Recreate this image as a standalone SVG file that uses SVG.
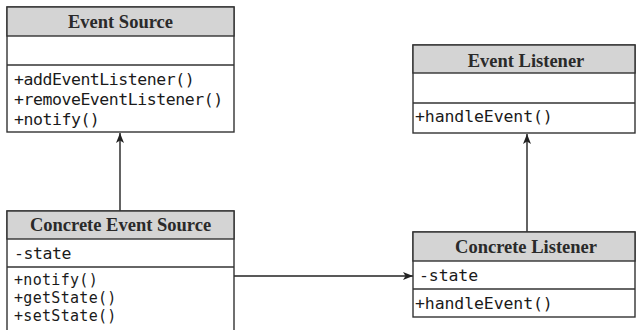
<svg xmlns="http://www.w3.org/2000/svg" width="637" height="330" viewBox="0 0 637 330">
<style>
.box{fill:#fff;stroke:#333;stroke-width:1.4}
.hdr{fill:#d4d4d4;stroke:#333;stroke-width:1.4}
.sep{stroke:#333;stroke-width:1.4}
.title{font-family:"Liberation Serif","Times New Roman",serif;font-weight:bold;font-size:18.5px;fill:#2a2a2a;text-anchor:middle}
.mem{font-family:"DejaVu Sans Mono",monospace;font-size:16.5px;letter-spacing:-0.45px;fill:#1a1a1a}
.mems{font-family:"DejaVu Sans Mono",monospace;font-size:15px;letter-spacing:0.3px;fill:#1a1a1a}
.memr{font-family:"DejaVu Sans Mono",monospace;font-size:16.5px;letter-spacing:-0.1px;fill:#1a1a1a}
.conn{stroke:#222;stroke-width:1.4;fill:none}
</style>
<defs>
<marker id="arr" viewBox="0 0 10 8" refX="10" refY="4" markerWidth="10" markerHeight="8" markerUnits="userSpaceOnUse" orient="auto">
<path d="M0,0 L10,4 L0,8 L2.5,4 z" fill="#222"/>
</marker>
</defs>
<g id="connectors">
<line class="conn" x1="120" y1="211" x2="120" y2="133" marker-end="url(#arr)"/>
<line class="conn" x1="527" y1="232" x2="527" y2="134" marker-end="url(#arr)"/>
<line class="conn" x1="234" y1="276" x2="413" y2="276" marker-end="url(#arr)"/>
</g>
<g id="event-source">
<rect class="box" x="7" y="7" width="227" height="125"/>
<rect class="hdr" x="7" y="7" width="227" height="29"/>
<line class="sep" x1="7" y1="65" x2="234" y2="65"/>
<text class="title" x="120.5" y="28">Event Source</text>
<text class="mem" x="14" y="85">+addEventListener()</text>
<text class="mem" x="14" y="105">+removeEventListener()</text>
<text class="mem" x="14" y="125">+notify()</text>
</g>
<g id="concrete-event-source">
<rect class="box" x="7" y="211" width="227" height="130"/>
<rect class="hdr" x="7" y="211" width="227" height="28"/>
<line class="sep" x1="7" y1="267" x2="234" y2="267"/>
<text class="title" x="120.5" y="231">Concrete Event Source</text>
<text class="mem" x="14" y="259">-state</text>
<text class="mems" x="14" y="285">+notify()</text>
<text class="mems" x="14" y="303">+getState()</text>
<text class="mems" x="14" y="321">+setState()</text>
</g>
<g id="event-listener">
<rect class="box" x="413" y="45" width="222" height="88"/>
<rect class="hdr" x="413" y="45" width="222" height="28"/>
<line class="sep" x1="413" y1="103" x2="635" y2="103"/>
<text class="title" x="526" y="67">Event Listener</text>
<text class="memr" x="415" y="122">+handleEvent()</text>
</g>
<g id="concrete-listener">
<rect class="box" x="413" y="232" width="222" height="85"/>
<rect class="hdr" x="413" y="232" width="222" height="29"/>
<line class="sep" x1="413" y1="289" x2="635" y2="289"/>
<text class="title" x="526" y="253">Concrete Listener</text>
<text class="memr" x="419" y="281">-state</text>
<text class="memr" x="415" y="309">+handleEvent()</text>
</g>
</svg>
